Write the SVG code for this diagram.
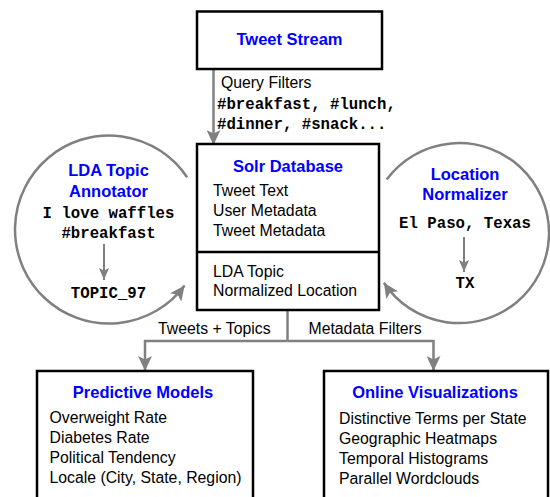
<svg xmlns="http://www.w3.org/2000/svg" width="550" height="497" viewBox="0 0 550 497">
<style>
.box{fill:#fff;stroke:#000;stroke-width:2.5}
.ring{fill:none;stroke:#808080;stroke-width:2.5}
.conn{fill:none;stroke:#808080;stroke-width:2.5}
.thin{fill:none;stroke:#808080;stroke-width:2}
.title{font-family:"Liberation Sans",Arial,sans-serif;font-weight:bold;font-size:16.5px;fill:#0000FF}
.body{font-family:"Liberation Sans",Arial,sans-serif;font-size:15.8px;fill:#000}
.mono{font-family:"Liberation Mono","Courier New",monospace;font-weight:bold;font-size:15.7px;fill:#000}
.c{text-anchor:middle}
</style>
<defs>
<marker id="arr" markerUnits="userSpaceOnUse" viewBox="0 0 16 14" markerWidth="16" markerHeight="14" refX="15" refY="7" orient="auto">
<path d="M0,0 L15,7 L0,14 L3.5,7 z" fill="#808080"/>
</marker>
<marker id="sarr" markerUnits="userSpaceOnUse" viewBox="0 0 13 10" markerWidth="13" markerHeight="10" refX="12" refY="5" orient="auto">
<path d="M0,0 L12,5 L0,10 L2.5,5 z" fill="#808080"/>
</marker>
</defs>

<g id="connectors">
<path class="conn" d="M213.5,69 V145" marker-end="url(#arr)"/>
<path class="conn" d="M287.5,310 V341"/>
<path class="conn" d="M287.5,341 H145 V371" marker-end="url(#arr)"/>
<path class="conn" d="M287.5,341 H433.5 V371" marker-end="url(#arr)"/>
<text class="body" x="221" y="87.5">Query Filters</text>
<text class="mono" x="217" y="108.5">#breakfast, #lunch,</text>
<text class="mono" x="217" y="128.5">#dinner, #snack...</text>
<text class="body" x="158" y="334">Tweets + Topics</text>
<text class="body" x="308.5" y="334">Metadata Filters</text>
</g>

<g id="tweet-stream">
<rect class="box" x="197" y="11.5" width="185" height="57.5"/>
<text class="title c" x="289.5" y="45">Tweet Stream</text>
</g>

<g id="solr-database">
<rect class="box" x="197" y="144" width="182" height="166"/>
<line x1="197" y1="252" x2="379" y2="252" stroke="#000" stroke-width="2.5"/>
<text class="title c" x="288" y="172">Solr Database</text>
<text class="body" x="213" y="196">Tweet Text</text>
<text class="body" x="213" y="216">User Metadata</text>
<text class="body" x="213" y="236">Tweet Metadata</text>
<text class="body" x="213" y="277">LDA Topic</text>
<text class="body" x="213" y="296">Normalized Location</text>
</g>

<g id="lda-topic-annotator">
<path class="ring" d="M187.1,177.2 A94,94 0 1 0 184.6,285.4" marker-end="url(#arr)"/>
<text class="title c" x="108.5" y="176">LDA Topic</text>
<text class="title c" x="108.5" y="196.5">Annotator</text>
<text class="mono c" x="108.5" y="217.5">I love waffles</text>
<text class="mono c" x="108.5" y="237.5">#breakfast</text>
<path class="thin" d="M104,244 V280" marker-end="url(#sarr)"/>
<text class="mono c" x="108.5" y="298">TOPIC_97</text>
</g>

<g id="location-normalizer">
<path class="ring" d="M386.7,179.5 A90,90 0 1 1 383.9,282.7" marker-end="url(#arr)"/>
<text class="title c" x="465" y="180">Location</text>
<text class="title c" x="465" y="200">Normalizer</text>
<text class="mono c" x="465" y="227.7">El Paso, Texas</text>
<path class="thin" d="M464,237 V272" marker-end="url(#sarr)"/>
<text class="mono c" x="465" y="288">TX</text>
</g>

<g id="predictive-models">
<rect class="box" x="37" y="371" width="216" height="150"/>
<text class="title c" x="143" y="398">Predictive Models</text>
<text class="body" x="49.5" y="422.5">Overweight Rate</text>
<text class="body" x="49.5" y="442.5">Diabetes Rate</text>
<text class="body" x="49.5" y="462.5">Political Tendency</text>
<text class="body" x="49.5" y="482.5">Locale (City, State, Region)</text>
</g>

<g id="online-visualizations">
<rect class="box" x="324" y="371" width="224" height="150"/>
<text class="title c" x="435" y="397.5">Online Visualizations</text>
<text class="body" x="339" y="424">Distinctive Terms per State</text>
<text class="body" x="339" y="444">Geographic Heatmaps</text>
<text class="body" x="339" y="464">Temporal Histograms</text>
<text class="body" x="339" y="484">Parallel Wordclouds</text>
</g>
</svg>
